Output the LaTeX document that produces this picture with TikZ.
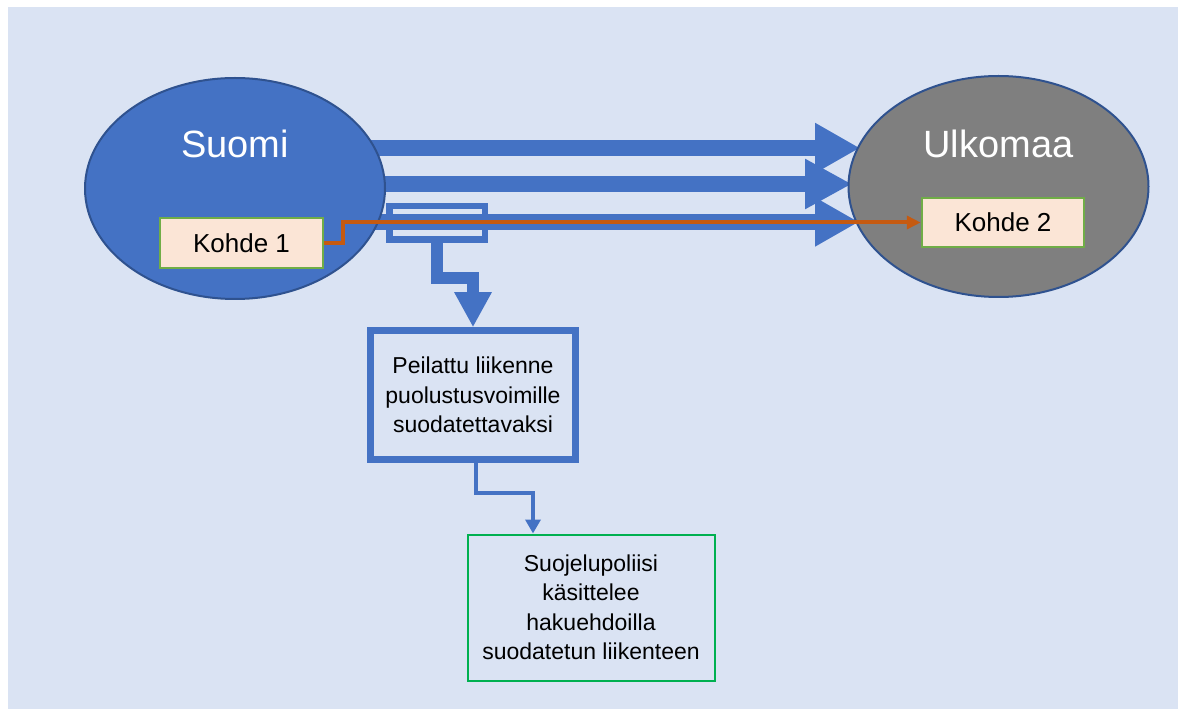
\documentclass[tikz,border=0pt]{standalone}
\usepackage{fontspec}
\setmainfont{Liberation Sans}
\usetikzlibrary{arrows.meta,positioning,shapes.geometric}

\definecolor{paper}{HTML}{DAE3F3}
\definecolor{flowblue}{HTML}{4472C4}
\definecolor{rimblue}{HTML}{2F528F}
\definecolor{landgray}{HTML}{7F7F7F}
\definecolor{targetfill}{HTML}{FBE5D6}
\definecolor{targetrim}{HTML}{70AD47}
\definecolor{routeorange}{HTML}{C55A11}
\definecolor{supogreen}{HTML}{00B050}

\pgfdeclarelayer{bg}
\pgfdeclarelayer{flows}
\pgfsetlayers{bg,flows,main}

\begin{document}
\begin{tikzpicture}[x=1pt,y=-1pt,line join=miter,
        land/.style={ellipse,draw=rimblue,line width=2pt,minimum width=300pt,minimum height=221pt},
        landname/.style={text=white,font=\fontsize{38}{44}\selectfont},
        target/.style={rectangle,draw=targetrim,fill=targetfill,line width=2.5pt,
            font=\fontsize{26}{30}\selectfont},
        bluebox/.style={rectangle,draw=flowblue,line width=6.5pt},
        boxtext/.style={align=center,font=\fontsize{23}{29.5}\selectfont},
        bigflow/.style={draw=flowblue,line width=16pt,-{Triangle[length=45pt,width=47pt]}},
        mirrorflow/.style={draw=flowblue,line width=12pt,-{Triangle[length=35pt,width=35pt]}},
        thinflow/.style={draw=flowblue,line width=4pt,-{Triangle[length=14pt,width=15pt]}},
        route/.style={draw=routeorange,line width=4pt,-{Triangle[length=14pt,width=13pt]}}]

\useasboundingbox (0,0) rectangle (1184,711);
\begin{pgfonlayer}{bg}
  \fill[paper] (8,7) rectangle (1178,709);
\end{pgfonlayer}

% the two countries
\node (suomi) [land,fill=flowblue,label={[landname,yshift=45pt]center:Suomi}] at (235,188.5) {};
\node (ulkomaa) [land,fill=landgray,label={[landname,yshift=43pt]center:Ulkomaa}] at (998.5,186.5) {};

\node (kohde1) [target,minimum width=163pt,minimum height=50pt] at (241.5,243) {Kohde 1};
\node (kohde2) [target,minimum width=162pt,minimum height=49pt] at (1003,222.5) {Kohde 2};

% mirroring point and the boxes below
\node (peili) [bluebox,minimum width=95.5pt,minimum height=33.5pt] at (437,223) {};
\node (peilattu) [bluebox,boxtext,minimum width=205pt,minimum height=129pt] at (473,395)
    {Peilattu liikenne\\puolustusvoimille\\suodatettavaksi};
\node (supo) [rectangle,draw=supogreen,line width=2pt,boxtext,minimum width=247pt,minimum height=146pt] at (591,607.5)
    {Suojelupoliisi\\käsittelee\\hakuehdoilla\\suodatetun liikenteen};

% traffic between the countries
\begin{pgfonlayer}{flows}
  \coordinate (tip1) at (860,148);
  \coordinate (tip2) at (852,184);
  \coordinate (tip3) at (859,222);
  \draw[bigflow] (suomi.center |- tip1) -- (tip1);
  \draw[bigflow,-{Triangle[length=47pt,width=47pt]}] (suomi.center |- tip2) -- (tip2);
  \draw[bigflow,-{Triangle[length=44pt,width=46pt]}] (suomi.center |- tip3) -- (tip3);
\end{pgfonlayer}

\draw[route] (kohde1.east) -- ++(19,0) |- (kohde2.west);

\draw[mirrorflow] (peili.south) -- ++(0,35) -| (peilattu.north);
\draw[thinflow] ([xshift=3pt]peilattu.south) -- ++(0,30) -| ([xshift=-58pt]supo.north);

\end{tikzpicture}
\end{document}
